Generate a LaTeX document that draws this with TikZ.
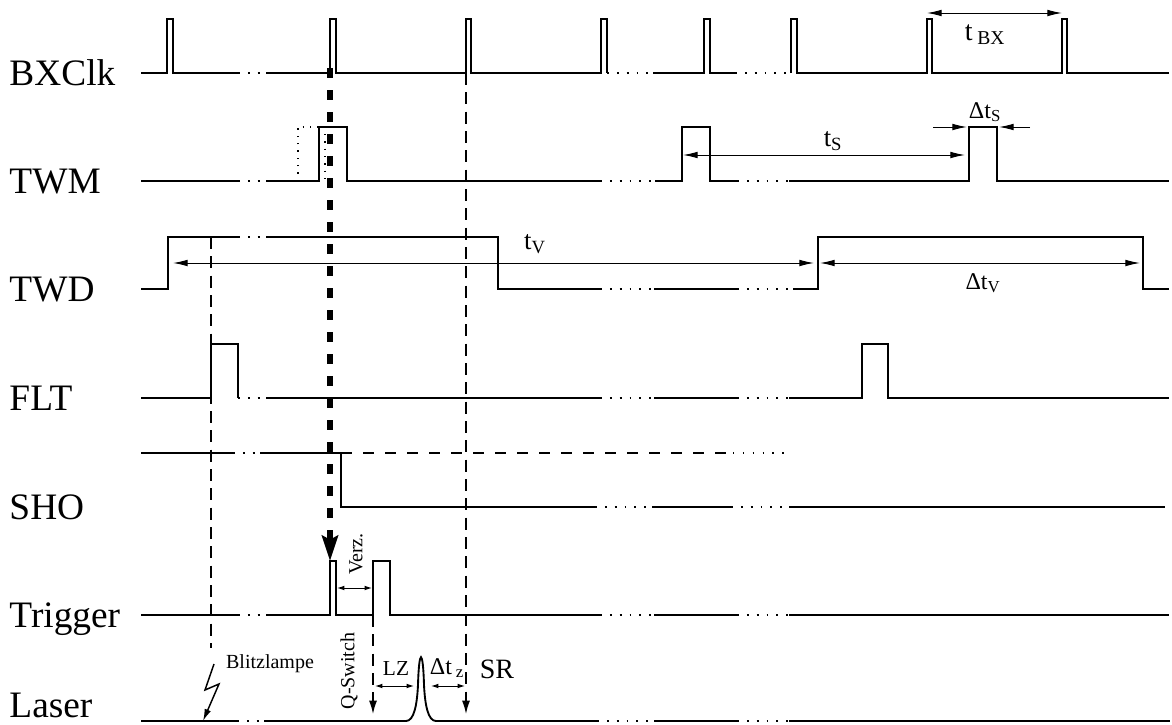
\documentclass[tikz,border=0pt]{standalone}
\usepackage{fontspec}
\setmainfont{Liberation Serif}
\usetikzlibrary{arrows.meta}

\tikzset{every picture/.style={line width=0.75pt}}
\tikzset{
  sig/.style={line width=1.4pt},
  gap/.style={line width=1.4pt, dash pattern=on 1.4pt off 6pt},
  guide/.style={line width=1.1pt, dash pattern=on 9pt off 5.5pt},
  shodash/.style={line width=1pt, dash pattern=on 8pt off 8.5pt},
  bigdash/.style={line width=3.8pt, dash pattern=on 7.5pt off 9pt},
  dim/.style={line width=0.75pt, {Latex[length=11pt,width=5pt]}-{Latex[length=11pt,width=5pt]}},
  halfdim/.style={line width=0.75pt, -{Latex[length=11pt,width=5pt]}},
  smalldim/.style={line width=0.75pt, {Latex[length=5.5pt,width=3.5pt]}-{Latex[length=5.5pt,width=3.5pt]}},
  rowlabel/.style={anchor=base west, inner sep=0pt, font=\fontsize{28}{30}\selectfont},
  timelabel/.style={inner sep=0pt, font=\fontsize{20}{24}\selectfont},
  deltalabel/.style={inner sep=0pt, font=\fontsize{18}{21}\selectfont},
  smalllabel/.style={inner sep=0pt, font=\fontsize{15}{18}\selectfont},
}

\begin{document}
\begin{tikzpicture}[x=0.75pt,y=0.75pt,yscale=-1,xscale=1]
    \useasboundingbox (0,0) rectangle (1172,725);

    % Row labels
    \node[rowlabel] (lblBXClk) at (9,85) {BXClk};
    \node[rowlabel] (lblTWM) at (9,193) {TWM};
    \node[rowlabel] (lblTWD) at (9,301) {TWD};
    \node[rowlabel] (lblFLT) at (9,410) {FLT};
    \node[rowlabel] (lblSHO) at (9,519) {SHO};
    \node[rowlabel] (lblTrigger) at (9,627) {Trigger};
    \node[rowlabel] (lblLaser) at (9,717) {Laser};

    %Signal: BXClk
    \draw[sig] (141,73) -- (167,73) -- (167,19) -- (173,19) -- (173,73) -- (238,73);
    \draw[gap] (238,73) -- (266,73);
    \draw[sig] (266,73) -- (330,73) -- (330,19) -- (336,19) -- (336,73) -- (466,73) -- (466,19) -- (471,19) -- (471,73) -- (601,73) -- (601,19) -- (607,19) -- (607,73);
    \draw[gap] (607,73) -- (653,73);
    \draw[sig] (653,73) -- (704,73) -- (704,19) -- (710,19) -- (710,73) -- (735,73);
    \draw[gap] (735,73) -- (791,73);
    \draw[sig] (791,73) -- (791,19) -- (797,19) -- (797,73) -- (927,73) -- (927,19) -- (932,19) -- (932,73) -- (1062,73) -- (1062,19) -- (1067,19) -- (1067,73) -- (1169,73);

    %Signal: TWM
    \draw[sig] (141,181) -- (238,181);
    \draw[gap] (238,181) -- (266,181);
    \draw[sig] (266,181) -- (319,181) -- (319,127) -- (347,127) -- (347,181) -- (600,181);
    \draw[gap] (600,181) -- (655,181);
    \draw[sig] (655,181) -- (682,181) -- (682,127) -- (710,127) -- (710,181) -- (737,181);
    \draw[gap] (737,181) -- (789,181);
    \draw[sig] (789,181) -- (969,181) -- (969,127) -- (997,127) -- (997,181) -- (1169,181);
    % earlier TWM pulse, dotted
    \draw[line width=1pt, dash pattern=on 1pt off 4.5pt] (298,181) -- (298,127) -- (325,127) -- (325,181);

    %Signal: TWD
    \draw[sig] (141,289) -- (168,289) -- (168,237) -- (238,237);
    \draw[gap] (238,237) -- (266,237);
    \draw[sig] (266,237) -- (498,237) -- (498,289) -- (600,289);
    \draw[gap] (600,289) -- (654,289);
    \draw[sig] (654,289) -- (737,289);
    \draw[gap] (737,289) -- (793,289);
    \draw[sig] (793,289) -- (818,289) -- (818,237) -- (1143,237) -- (1143,289) -- (1169,289);

    %Signal: FLT
    \draw[sig] (141,398) -- (211,398) -- (211,344) -- (238,344) -- (238,398);
    \draw[gap] (238,398) -- (266,398);
    \draw[sig] (266,398) -- (600,398);
    \draw[gap] (600,398) -- (654,398);
    \draw[sig] (654,398) -- (737,398);
    \draw[gap] (737,398) -- (789,398);
    \draw[sig] (789,398) -- (862,398) -- (862,344) -- (888,344) -- (888,398) -- (1169,398);

    %Signal: SHO
    \draw[sig] (141,453) -- (233,453);
    \draw[gap] (233,453) -- (260,453);
    \draw[sig] (260,453) -- (341,453) -- (341,507) -- (595,507);
    \draw[gap] (595,507) -- (652,507);
    \draw[sig] (652,507) -- (731,507);
    \draw[gap] (731,507) -- (789,507);
    \draw[sig] (789,507) -- (1165,507);
    \draw[shodash] (341,453) -- (733,453);
    \draw[line width=1pt, dash pattern=on 1pt off 6.4pt] (733,453) -- (787,453);

    %Signal: Trigger
    \draw[sig] (141,615) -- (238,615);
    \draw[gap] (238,615) -- (266,615);
    \draw[sig] (266,615) -- (330,615) -- (330,561) -- (336,561) -- (336,615) -- (373,615) -- (373,561) -- (390,561) -- (390,615) -- (600,615);
    \draw[gap] (600,615) -- (654,615);
    \draw[sig] (654,615) -- (737,615);
    \draw[gap] (737,615) -- (789,615);
    \draw[sig] (789,615) -- (1169,615);

    %Signal: Laser
    \draw[sig] (141,721) -- (237,721);
    \draw[gap] (237,721) -- (264,721);
    \draw[sig] (264,721) -- (406,721) .. controls (414,721) and (417,705) .. (418,685) .. controls (419,648) and (423,648) .. (424,685) .. controls (425,705) and (428,721) .. (436,721) -- (597,721);
    \draw[gap] (597,721) -- (654,721);
    \draw[sig] (654,721) -- (737,721);
    \draw[gap] (737,721) -- (789,721);
    \draw[sig] (789,721) -- (1170,721);

    % Guide lines
    \coordinate (flashTop) at (211,237);
    \coordinate (flashEnd) at (211,648);
    \draw[guide] (flashTop) -- (flashEnd);
    \draw[line width=1.1pt, -{Latex[length=9pt,width=5pt]}] (214,664) -- (205,690) -- (219,684) -- (203,721);
    \coordinate (bxTwo) at (330,68);
    \coordinate (trigOne) at (330,561);
    \draw[bigdash, -{Stealth[length=19pt,width=12pt,inset=3pt]}] (bxTwo) -- (trigOne);
    \coordinate (bxThree) at (466,73);
    \coordinate (srTip) at (466,714);
    \draw[guide, -{Latex[length=10pt,width=6pt]}] (bxThree) -- (srTip);
    \coordinate (trigTwo) at (373,615);
    \coordinate (qsTip) at (373,714);
    \draw[guide, -{Latex[length=10pt,width=6pt]}] (trigTwo) -- (qsTip);

    % Dimension arrows
    \coordinate (tbxL) at (927,13);
    \coordinate (tbxR) at (1062,13);
    \draw[dim] (tbxL) -- (tbxR);
    \coordinate (tsL) at (683,155);
    \coordinate (tsR) at (965,155);
    \draw[dim] (tsL) -- (tsR);
    \coordinate (dtsA) at (933,127);
    \coordinate (dtsB) at (967,127);
    \coordinate (dtsC) at (1030,127);
    \coordinate (dtsD) at (999,127);
    \draw[halfdim] (dtsA) -- (dtsB);
    \draw[halfdim] (dtsC) -- (dtsD);
    \coordinate (tvL) at (173,263);
    \coordinate (tvR) at (814,263);
    \draw[dim] (tvL) -- (tvR);
    \coordinate (dtvL) at (820,263);
    \coordinate (dtvR) at (1140,263);
    \draw[dim] (dtvL) -- (dtvR);
    \coordinate (verzL) at (337,588);
    \coordinate (verzR) at (372,588);
    \draw[smalldim] (verzL) -- (verzR);
    \coordinate (lzL) at (375,686);
    \coordinate (lzR) at (414,686);
    \draw[smalldim] (lzL) -- (lzR);
    \coordinate (dtzL) at (431,686);
    \coordinate (dtzR) at (465,686);
    \draw[smalldim] (dtzL) -- (dtzR);

    % Text Node
    \node[timelabel, font=\fontsize{21}{24}\selectfont] (tBX) at (985,35) {t\,\textsubscript{BX}};
    % Text Node
    \node[timelabel] (tS) at (833,141) {t\textsubscript{S}};
    % Text Node
    \node[deltalabel] (dtS) at (985,112) {Δt\textsubscript{S}};
    % Text Node
    \node[timelabel] (tV) at (535,244) {t\textsubscript{V}};
    % Text Node
    \node[deltalabel] (dtV) at (983,283) {Δt\textsubscript{V}};
    % Text Node
    \node[smalllabel, rotate=90] (verz) at (356,554) {Verz.};
    % Text Node
    \node[smalllabel] (blitz) at (270,664) {Blitzlampe};
    % Text Node
    \node[smalllabel, rotate=90] (qswitch) at (349,671) {Q-Switch};
    % Text Node
    \node[deltalabel, font=\fontsize{16}{19}\selectfont] (lz) at (396,669) {LZ};
    % Text Node
    \node[deltalabel] (dtz) at (447,668) {Δt\,\textsubscript{z}};
    % Text Node
    \node[timelabel, font=\fontsize{21}{24}\selectfont] (sr) at (497,669) {SR};
\end{tikzpicture}
\end{document}
